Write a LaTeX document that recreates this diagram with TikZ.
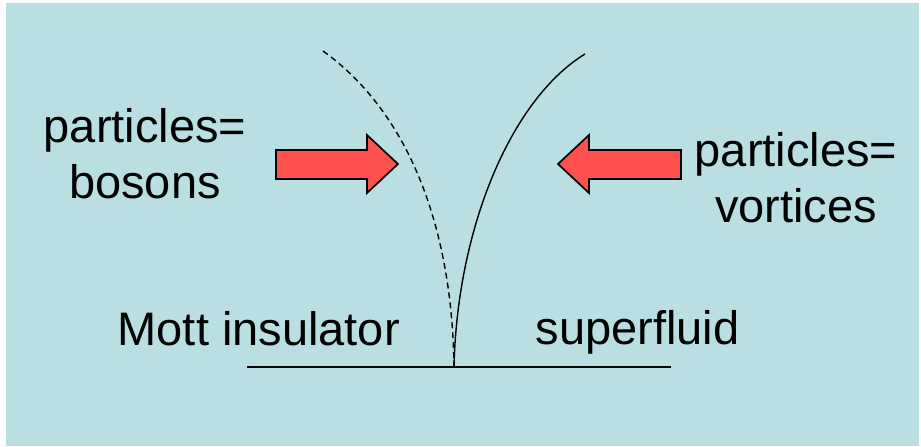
\documentclass[tikz,border=0pt]{standalone}
\usepackage{fontspec}
\setmainfont{Liberation Sans}
\usetikzlibrary{calc}

\definecolor{bgblue}{RGB}{186,223,226}
\definecolor{arrowred}{RGB}{255,80,80}

\begin{document}
\begin{tikzpicture}[x=1pt, y=-1pt, line width=1.4pt,
    label/.style={inner sep=0pt, font=\fontsize{47}{56}\selectfont},
    fatarrow/.style={fill=arrowred, draw=black, line width=1.7pt, line join=miter}]
  \useasboundingbox (0,0) rectangle (921,447);
  \fill[bgblue] (6,3) rectangle (919,446);
  % phase boundary
  \coordinate (L) at (247,367);
  \coordinate (R) at (671,367);
  \coordinate (C) at (454,367);
  \draw (L)--(R);
  \coordinate (S) at (585,54);       % top of solid curve
  \coordinate (D) at (323,51);       % top of dashed curve
  \draw (C) .. controls (457,230) and (510,100) .. (S);
  \draw[dash pattern=on 6pt off 4pt] (D) .. controls (405,110) and (452,220) .. (C);
  % arrows
  \draw[fatarrow] (276,150)--(367,150)--(367,135)--(398,164)--(367,193)--(367,179)--(276,179)--cycle;
  \draw[fatarrow] (681,150)--(589,150)--(589,135)--(558,164)--(589,193)--(589,179)--(681,179)--cycle;
  % labels (base = last line)
  \node[label, align=center, anchor=base] (bosons) at (145,198) {particles=\\bosons};
  \node[label, align=center, anchor=base] (vortices) at (796,222) {particles=\\vortices};
  \node[label, anchor=base west] (mott) at (117,345) {Mott insulator};
  \node[label, anchor=base west] (sf) at (535,344) {superfluid};
\end{tikzpicture}
\end{document}
